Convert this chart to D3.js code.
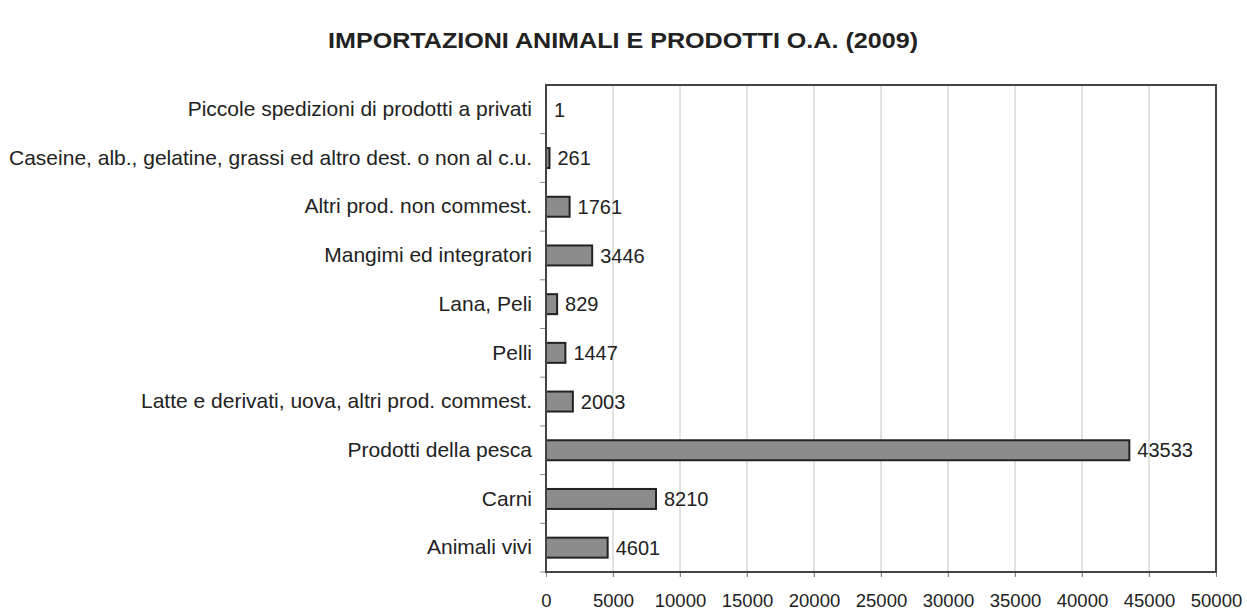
<!DOCTYPE html>
<html>
<head>
<meta charset="utf-8">
<script src="https://cdn.jsdelivr.net/npm/d3@7"></script>
<style>
  body { margin: 0; background: #fff; }
  svg { display: block; font-family: "Liberation Sans", Arial, sans-serif; }
</style>
</head>
<body>
<svg width="1247" height="610"></svg>
<script>
// dati, dall'alto in basso
var categorie = [
  "Piccole spedizioni di prodotti a privati",
  "Caseine, alb., gelatine, grassi ed altro dest. o non al c.u.",
  "Altri prod. non commest.",
  "Mangimi ed integratori",
  "Lana, Peli",
  "Pelli",
  "Latte e derivati, uova, altri prod. commest.",
  "Prodotti della pesca",
  "Carni",
  "Animali vivi"
];
var valori = [1, 261, 1761, 3446, 829, 1447, 2003, 43533, 8210, 4601];
var ticks = [0, 5000, 10000, 15000, 20000, 25000, 30000, 35000, 40000, 45000, 50000];

var svg = d3.select("svg");
// attenzione: "top" è già window.top, quindi altri nomi
var pLeft = 546, pRight = 1216, pTop = 85, pBottom = 572;

var x = d3.scaleLinear().domain([0, 50000]).range([pLeft, pRight]);
var y = d3.scaleBand().domain(categorie).range([pTop, pBottom]).paddingInner(0.59).paddingOuter(0.295);
var yb = d3.scaleBand().domain(categorie).range([pTop, pBottom]);

svg.append("text")
  .attr("x", 623).attr("y", 48)
  .attr("text-anchor", "middle")
  .attr("font-size", 22).attr("font-weight", "bold")
  .attr("fill", "#222")
  .attr("textLength", 590).attr("lengthAdjust", "spacingAndGlyphs")
  .text("IMPORTAZIONI ANIMALI E PRODOTTI O.A. (2009)");

// griglia
svg.append("g").selectAll("line")
  .data(ticks.slice(1, -1))
  .enter().append("line")
    .attr("x1", function(d){ return x(d); })
    .attr("x2", function(d){ return x(d); })
    .attr("y1", pTop).attr("y2", pBottom + 5)
    .attr("stroke", "#c4c4c4").attr("stroke-width", 1);

// asse x
var xAxis = svg.append("g")
  .attr("transform", "translate(0," + pBottom + ")")
  .call(d3.axisBottom(x).tickValues(ticks).tickSize(5).tickFormat(d3.format("d")));
xAxis.select(".domain").remove();
xAxis.selectAll("line").attr("stroke", "#888");
xAxis.selectAll("text")
  .attr("font-size", 18.5).attr("fill", "#222")
  .attr("font-family", "Liberation Sans, Arial, sans-serif")
  .attr("dy", null).attr("y", 35);

// asse y
var yAxis = svg.append("g")
  .attr("transform", "translate(" + pLeft + ",0)")
  .call(d3.axisLeft(yb).tickSize(0).tickPadding(14));
yAxis.select(".domain").remove();
yAxis.selectAll("text")
  .attr("font-size", 21).attr("fill", "#222")
  .attr("font-family", "Liberation Sans, Arial, sans-serif");

// tacche tra le categorie
svg.append("g").selectAll("line")
  .data(categorie)
  .enter().append("line")
    .attr("x1", pLeft - 6).attr("x2", pLeft)
    .attr("y1", function(d){ return yb(d) + yb.step(); })
    .attr("y2", function(d){ return yb(d) + yb.step(); })
    .attr("stroke", "#888");

// barre
svg.append("g").selectAll("rect")
  .data(valori)
  .enter().append("rect")
    .attr("x", x(0))
    .attr("y", function(d, i){ return y(categorie[i]); })
    .attr("width", function(d){ return Math.max(x(d) - x(0), 0); })
    .attr("height", y.bandwidth())
    .attr("fill", "#8c8c8c")
    .attr("stroke", "#222").attr("stroke-width", 2);

svg.append("g").selectAll("text")
  .data(valori)
  .enter().append("text")
    .attr("x", function(d){ return x(d) + 8; })
    .attr("y", function(d, i){ return y(categorie[i]) + y.bandwidth() / 2; })
    .attr("dy", "0.36em")
    .attr("font-size", 20).attr("fill", "#222")
    .text(function(d){ return d; });

// cornice
svg.append("path")
  .attr("d", "M" + pLeft + "," + pBottom + "V" + pTop + "H" + pRight + "V" + pBottom + "Z")
  .attr("fill", "none").attr("stroke", "#444").attr("stroke-width", 2);
</script>
</body>
</html>
